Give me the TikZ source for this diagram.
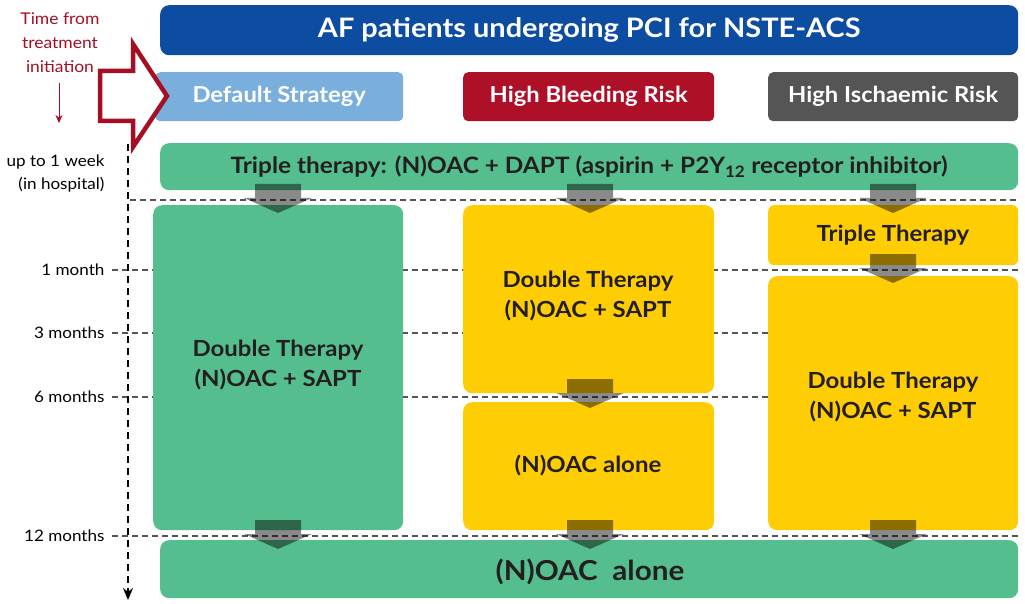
\documentclass[tikz,border=0pt]{standalone}
\usepackage{fontspec}
\setmainfont[FakeStretch=1.08]{Lato}
\usetikzlibrary{arrows.meta}
\definecolor{titleblue}{HTML}{0D4DA1}
\definecolor{defblue}{HTML}{7AAEDD}
\definecolor{bleedred}{HTML}{AE1028}
\definecolor{ischgrey}{HTML}{555555}
\definecolor{tgreen}{HTML}{55BE8E}
\definecolor{tyellow}{HTML}{FFCD03}
\definecolor{darkred}{HTML}{A50F24}
\definecolor{txt}{HTML}{231F20}
\definecolor{dashgrey}{HTML}{555555}
\tikzset{
  box/.style={rounded corners=9pt, inner sep=0pt},
  hdr/.style={box, text=white, font=\bfseries\fontsize{22}{26}\selectfont},
  boxtxt/.style={text=txt, font=\bfseries\fontsize{22.2}{30}\selectfont, align=center},
  timelbl/.style={anchor=east, font=\fontsize{15.8}{23}\selectfont, align=right, text=black},
  tline/.style={dashgrey, dash pattern=on 6pt off 4pt, line width=1.1pt},
  vline/.style={black, dash pattern=on 7pt off 5pt, line width=1.6pt},
  chev/.style={fill=black, fill opacity=0.46, draw=none},
}
\newcommand{\chevron}[2]{%
  \fill[chev] (#1-23,#2) -- (#1+23,#2) -- (#1+23,#2+14) -- (#1+34,#2+14) -- (#1,#2+29) -- (#1-34,#2+14) -- (#1-23,#2+14) -- cycle;}
\begin{document}
\begin{tikzpicture}[x=1pt,y=-1pt]
\useasboundingbox (0,0) rectangle (1025,604);
% time lines
\coordinate (l0a) at (130,200); \coordinate (l0b) at (1018,200);
\draw[tline] (l0a) -- (l0b);
\foreach \yy in {270,333,397,536}{
  \draw[tline] (112,\yy) -- (1018,\yy);
}
% vertical time arrow
\coordinate (va) at (128,144); \coordinate (vb) at (128,600);
\draw[vline, -{Stealth[length=12pt,width=10pt]}] (va) -- (vb);
% title
\node[box, fill=titleblue, minimum width=858pt, minimum height=50pt, anchor=north west, text=white,
  font=\bfseries\fontsize{26.8}{30}\selectfont] (title) at (160,5) {AF patients undergoing PCI for NSTE-ACS};
% headers
\node[hdr, fill=defblue, minimum width=248pt, minimum height=49pt, anchor=north west, rounded corners=5pt] (def) at (155,72) {Default Strategy};
\node[hdr, fill=bleedred, minimum width=251pt, minimum height=49pt, anchor=north west, rounded corners=5pt] (hbr) at (463,72) {High Bleeding Risk};
\node[hdr, fill=ischgrey, minimum width=250pt, minimum height=49pt, anchor=north west, rounded corners=5pt] (hir) at (768,72) {High Ischaemic Risk};
% big red arrow
\draw[darkred, line width=4.5pt, fill=white, line join=miter]
  (100,71) -- (133,71) -- (133,44) -- (167,96) -- (133,147) -- (133,121) -- (100,121) -- cycle;
% time label
\node[text=darkred, font=\fontsize{16.2}{24}\selectfont, align=center] (tfi) at (60,43) {Time from\\treatment\\initiation};
\coordinate (ra) at (59,83); \coordinate (rb) at (59,123);
\draw[darkred, line width=1pt, -{Stealth[length=8pt,width=7pt]}] (ra) -- (rb);
% triple therapy bar
\node[box, fill=tgreen, minimum width=858pt, minimum height=47pt, anchor=north west, boxtxt, font=\bfseries\fontsize{22.6}{28}\selectfont] (tri) at (160,143) {Triple therapy: (N)OAC + DAPT (aspirin + P2Y\textsubscript{12} receptor inhibitor)};
% column 1
\node[box, fill=tgreen, minimum width=250pt, minimum height=325pt, anchor=north west] (c1) at (153,205) {};
\node[boxtxt] (c1t) at (278,365) {Double Therapy\\(N)OAC + SAPT};
% column 2
\node[box, fill=tyellow, minimum width=251pt, minimum height=188pt, anchor=north west] (c2a) at (463,205) {};
\node[boxtxt] (c2at) at (588,296) {Double Therapy\\(N)OAC + SAPT};
\node[box, fill=tyellow, minimum width=251pt, minimum height=128pt, anchor=north west] (c2b) at (463,402) {};
\node[boxtxt] (c2bt) at (588,466) {(N)OAC alone};
% column 3
\node[box, fill=tyellow, minimum width=250pt, minimum height=60pt, anchor=north west, rounded corners=6pt] (c3a) at (768,205) {};
\node[boxtxt] (c3at) at (893,235) {Triple Therapy};
\node[box, fill=tyellow, minimum width=250pt, minimum height=254pt, anchor=north west] (c3b) at (768,276) {};
\node[boxtxt] (c3bt) at (893,397) {Double Therapy\\(N)OAC + SAPT};
% bottom bar
\node[box, fill=tgreen, minimum width=858pt, minimum height=58pt, anchor=north west] (bot) at (160,540) {};
\node[text=txt, font=\bfseries\fontsize{27.5}{30}\selectfont] (bott) at (590,572) {(N)OAC\ \ alone};
% chevrons
\chevron{278}{184}\chevron{590}{184}\chevron{893}{184}
\chevron{590}{379}
\chevron{893}{254}
\chevron{278}{520}\chevron{590}{520}\chevron{893}{520}
% time labels
\node[timelbl] (w1) at (108,174) {up to 1 week\\(in hospital)};
\node[timelbl] (m1) at (108,270) {1 month};
\node[timelbl] (m3) at (108,333) {3 months};
\node[timelbl] (m6) at (108,397) {6 months};
\node[timelbl] (m12) at (108,536) {12 months};
\end{tikzpicture}
\end{document}
